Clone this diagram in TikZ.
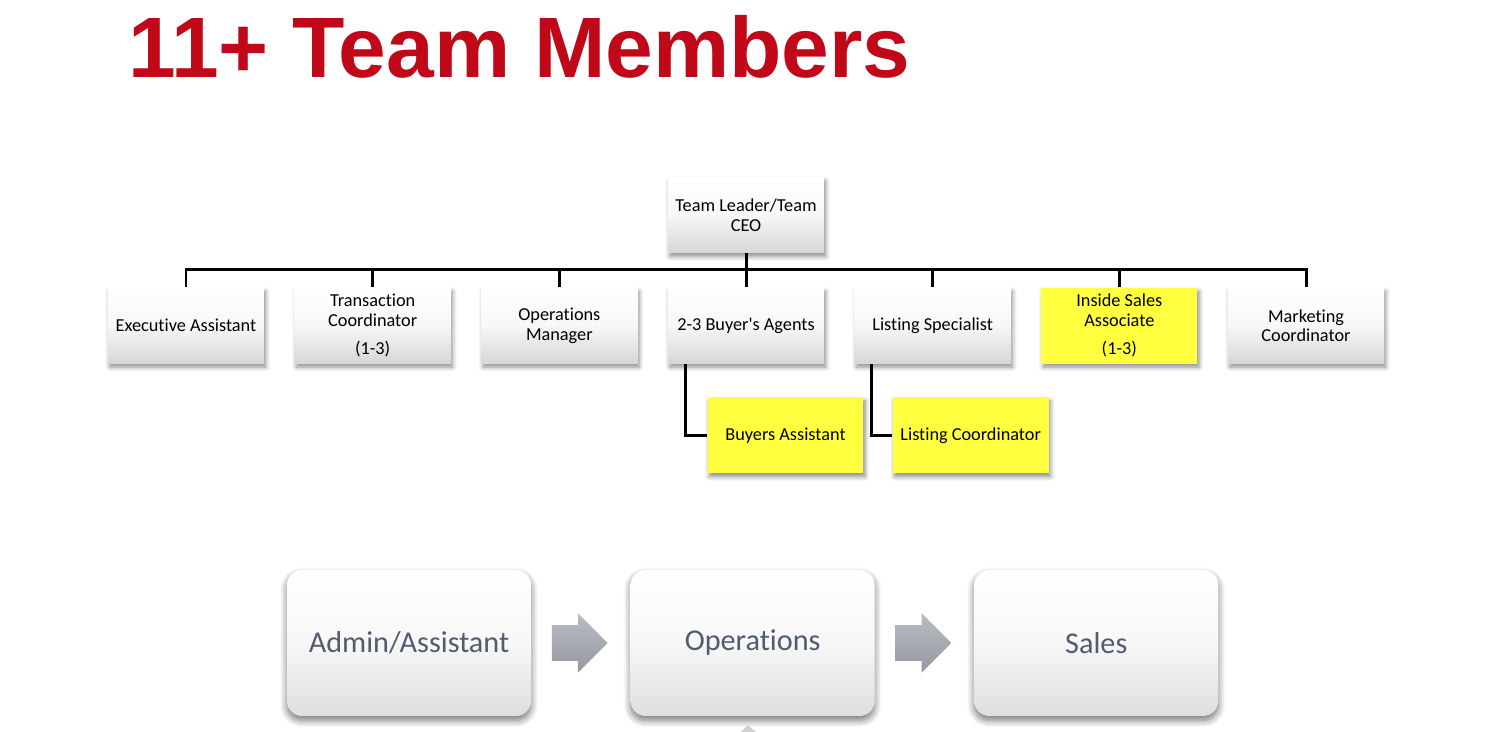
\documentclass[tikz,border=0pt]{standalone}
\usepackage{fontspec}
\setmainfont{Carlito}[Ligatures=NoCommon]
\newfontfamily\headfont{Liberation Sans}
\usetikzlibrary{positioning, calc, shadows, shadows.blur, shapes.arrows}

\definecolor{titlered}{RGB}{192,8,24}
\definecolor{hiliteyellow}{RGB}{255,255,64}
\definecolor{slatetext}{RGB}{80,92,112}
\definecolor{arrowlight}{RGB}{184,187,194}
\definecolor{arrowdark}{RGB}{150,153,161}

\begin{document}
\begin{tikzpicture}[
  x=0.02cm, y=-0.02cm,
  node distance=0.6cm,
  box/.style={minimum width=3.12cm, minimum height=1.52cm, inner sep=1pt,
    align=center, font=\fontsize{10.4}{11.2}\selectfont,
    blur shadow={shadow xshift=1pt, shadow yshift=-2pt, shadow blur steps=5,
      shadow blur radius=2.5pt, shadow opacity=45}},
  role/.style={box, top color=white, bottom color=black!16,
    middle color=white!97!black},
  hire/.style={box, fill=hiliteyellow},
  area/.style={minimum width=4.88cm, minimum height=2.92cm, rounded corners=0.3cm,
    font=\fontsize{17.2}{19}\selectfont, text=slatetext,
    top color=white, bottom color=black!13, middle color=white!97!black,
    blur shadow={shadow xshift=0pt, shadow yshift=-2.5pt, shadow blur steps=8,
      shadow blur radius=4pt, shadow opacity=55}},
  flow/.style={single arrow, single arrow head extend=0.24cm, inner xsep=0pt,
    inner ysep=0.35cm, minimum height=1.12cm, top color=arrowlight,
    bottom color=arrowdark, draw=none, xshift=-0.2cm},
  tie/.style={line width=1.7pt, draw=black},
]
  \useasboundingbox (0,0) rectangle (1500,732);

  % -- Title --
  \node[anchor=base west, inner sep=0pt, text=titlered,
    font=\headfont\bfseries\fontsize{48.8}{50}\selectfont] (title) at (128,78)
    {11+ Team Members};

  % -- Org chart --
  \node[role] (ceo) at (746,215) {Team Leader/Team\\CEO};
  \node[role, below=0.68cm of ceo] (agents) {2-3 Buyer\textquotesingle s Agents};
  \node[role, left=of agents] (opsmgr) {Operations\\Manager};
  \node[role, left=of opsmgr] (tc) {Transaction\\Coordinator\\[5pt](1-3)};
  \node[role, left=of tc] (exec) {Executive Assistant};
  \node[role, right=of agents] (listspec) {Listing Specialist};
  \node[hire, right=of listspec] (isa) {Inside Sales\\Associate\\[5pt](1-3)};
  \node[role, right=of isa] (mkt) {Marketing\\Coordinator};

  \node[hire, below=0.66cm of agents, xshift=0.79cm] (buyasst) {Buyers Assistant};
  \node[hire, below=0.66cm of listspec, xshift=0.76cm] (listcoord) {Listing Coordinator};

  % -- Lines --
  \coordinate (bus) at ($(ceo.south)!0.47!(agents.north)$);
  \draw[tie] (ceo.south) -- (agents.north);
  \foreach \n in {exec,tc,opsmgr,listspec,isa,mkt}
    \draw[tie] (\n.north) |- (bus);
  \draw[tie] ([xshift=-1.22cm]agents.south) |- (buyasst.west);
  \draw[tie] ([xshift=-1.22cm]listspec.south) |- (listcoord.west);

  % -- Process row --
  \node[area] (admin) at (409,643) {Admin/Assistant};
  \node[area, right=1.98cm of admin] (ops) {Operations};
  \node[area, right=1.98cm of ops] (sales) {Sales};
  \node[flow] (step1) at ($(admin.east)!0.5!(ops.west)$) {};
  \node[flow] (step2) at ($(ops.east)!0.5!(sales.west)$) {};

  \coordinate (stub) at ([xshift=-0.09cm, yshift=-0.18cm]ops.south);
  \fill[black!18] (stub) -- ++(-8,7) -- ++(16,0) -- cycle;
\end{tikzpicture}
\end{document}
